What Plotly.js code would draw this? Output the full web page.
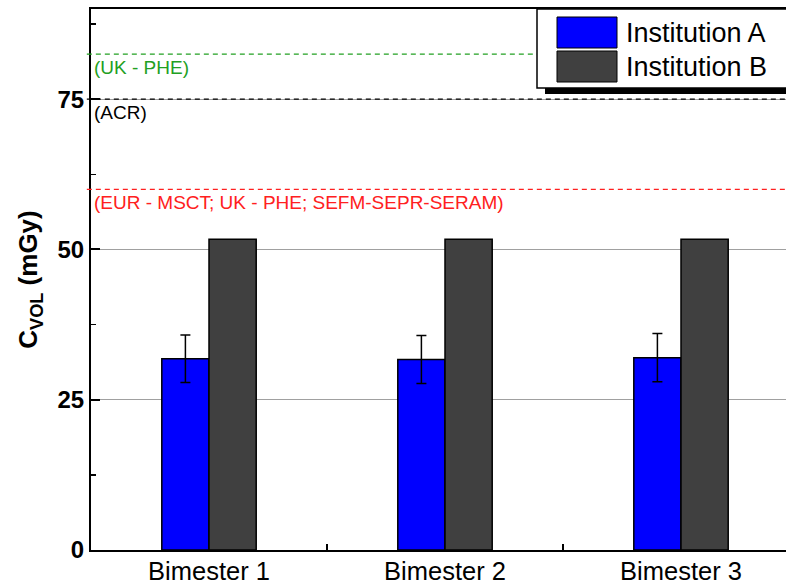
<!DOCTYPE html>
<html>
<head>
<meta charset="utf-8">
<script src="https://cdn.plot.ly/plotly-3.0.1.min.js"></script>
<style>html,body{margin:0;padding:0;background:#fff;}#chart{width:786px;height:587px;}</style>
</head>
<body>
<div id="chart"></div>
<script>
// ---- data ----
const categories = ["Bimester 1", "Bimester 2", "Bimester 3"];
const seriesNames = ["Institution A", "Institution B"];
const institutionA = [31.8, 31.7, 32.0];
const institutionAError = [3.95, 4.0, 4.0];
const institutionB = [51.7, 51.7, 51.7];
const refLevels = [82.5, 75, 60];
const refLabels = ["(UK - PHE)", "(ACR)", "(EUR - MSCT; UK - PHE; SEFM-SEPR-SERAM)"];
const refColors = ["#22a022", "#000000", "#ff2020"];
const yTickVals = [0, 25, 50, 75];

// ---- chart ----
const xIdx = categories.map((c, i) => i);
const colA = "#0000ff", colB = "#404040";
const FF = "Arial, Liberation Sans, sans-serif";

const traces = [
  {
    type: "bar", name: seriesNames[0], x: xIdx, y: institutionA,
    marker: {color: colA, line: {color: "#000", width: 1.5}},
    error_y: {type: "data", array: institutionAError, visible: true, color: "#000", thickness: 1.5, width: 5},
    showlegend: false, hoverinfo: "y"
  },
  {
    type: "bar", name: seriesNames[1], x: xIdx, y: institutionB,
    marker: {color: colB, line: {color: "#000", width: 1.5}},
    showlegend: false, hoverinfo: "y"
  }
];

const W = 786, H = 587, L = 91, T = 9, B = 37, R = 0;
const pw = W - L - R, ph = H - T - B;
const px = v => (v - L) / pw;
const py = v => (H - B - v) / ph;

const shapes = [];
const annotations = [];
refLevels.forEach((lv, i) => {
  shapes.push({type: "line", xref: "paper", yref: "y", x0: -0.006, x1: 1, y0: lv, y1: lv,
    line: {color: refColors[i], width: 1.3, dash: "5px,4px"}, layer: "above"});
  annotations.push({xref: "paper", yref: "y", x: px(92), y: lv, xanchor: "left", yanchor: "top",
    yshift: -1, text: refLabels[i], showarrow: false,
    font: {family: FF, size: 19, color: refColors[i]}});
});

// legend box (custom, with shadow)
shapes.push({type: "rect", xref: "paper", yref: "paper", x0: px(545), x1: 1.05, y0: py(94), y1: py(88),
  fillcolor: "#000", line: {width: 0}, layer: "above"});
shapes.push({type: "rect", xref: "paper", yref: "paper", x0: px(537), x1: 1.05, y0: py(88), y1: py(9),
  fillcolor: "#fff", line: {color: "#000", width: 1.5}, layer: "above"});
const swatchColors = [colA, colB];
const swatchTop = [17, 51];
seriesNames.forEach((n, i) => {
  shapes.push({type: "rect", xref: "paper", yref: "paper", x0: px(557), x1: px(617),
    y0: py(swatchTop[i] + 31), y1: py(swatchTop[i]),
    fillcolor: swatchColors[i], line: {color: "#000", width: 1}, layer: "above"});
  annotations.push({xref: "paper", yref: "paper", x: px(624), y: py(swatchTop[i] + 16),
    xanchor: "left", yanchor: "middle", text: n, showarrow: false,
    font: {family: FF, size: 27, color: "#000"}});
});

const layout = {
  width: W, height: H,
  margin: {l: L, r: R, t: T, b: B, pad: 0},
  paper_bgcolor: "#fff", plot_bgcolor: "#fff",
  barmode: "group", bargap: 0.6, bargroupgap: 0,
  showlegend: false,
  font: {family: FF, color: "#000"},
  xaxis: {
    type: "linear", range: [-0.5, -0.5 + pw / 236],
    tickvals: xIdx, ticktext: categories, ticks: "",
    tickfont: {size: 25.5, family: FF, color: "#000"},
    showline: true, linecolor: "#000", linewidth: 2, mirror: true,
    showgrid: false, zeroline: false, automargin: false, ticklabelstandoff: -3,
    minor: {tickvals: [0.5, 1.5], ticks: "inside", ticklen: 6, tickwidth: 1.5, tickcolor: "#000", showgrid: false}
  },
  yaxis: {
    range: [0, 90], tickvals: yTickVals, ticks: "inside", ticklen: 9, tickwidth: 2, tickcolor: "#000",
    tickfont: {size: 24, family: FF, color: "#000", weight: "bold"},
    showline: true, linecolor: "#000", linewidth: 2,
    showgrid: true, gridcolor: "#a0a0a0", gridwidth: 1, zeroline: false, automargin: false,
    minor: {dtick: 12.5, tick0: 0, ticks: "inside", ticklen: 5, tickwidth: 1.5, tickcolor: "#000", showgrid: false},
    title: {text: "C<sub>VOL</sub> (mGy)", standoff: 12,
      font: {size: 26, family: FF, color: "#000", weight: "bold"}}
  },
  shapes: shapes,
  annotations: annotations
};

Plotly.newPlot("chart", traces, layout, {displayModeBar: false, staticPlot: true});
</script>
</body>
</html>
